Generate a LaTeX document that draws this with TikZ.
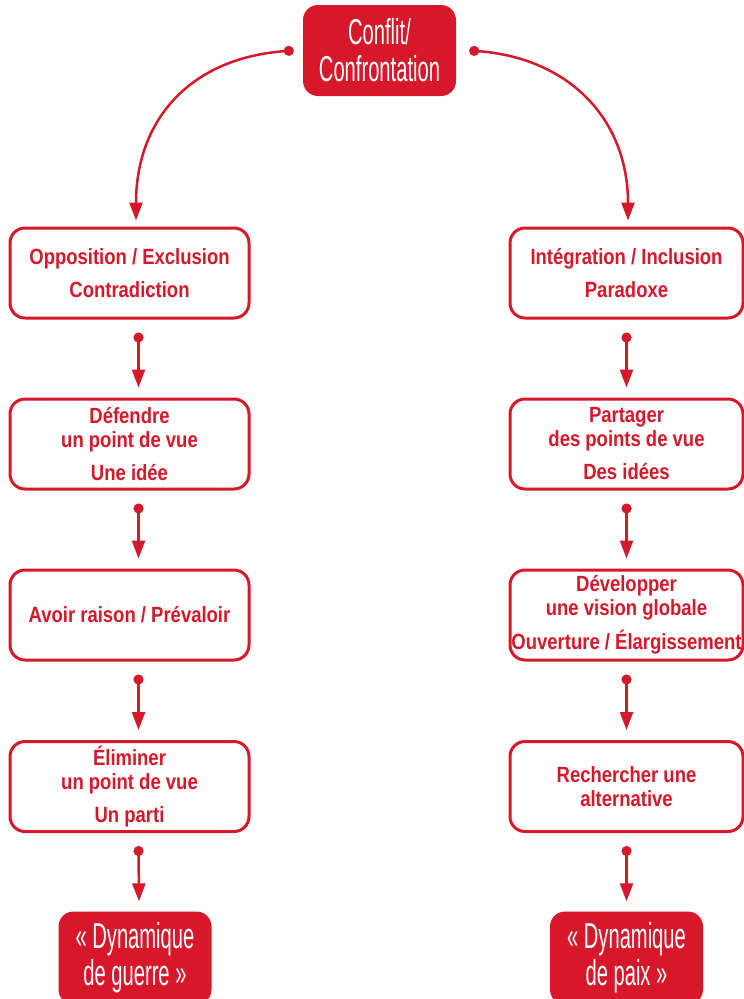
\documentclass[tikz,border=0pt]{standalone}
\usepackage{fontspec}
\usepackage{tikz}
\usetikzlibrary{arrows.meta,calc}
\newfontfamily\boxfont[FakeStretch=0.84]{Liberation Sans}
\newfontfamily\titlefont[FakeStretch=0.56]{Liberation Sans}
\definecolor{confred}{HTML}{D7182A}

\tikzset{
    stage/.style={draw=confred,line width=3pt,rounded corners=15pt,fill=white,
        minimum width=239pt,minimum height=90pt,inner sep=0pt,align=center,
        text=confred,font=\boxfont\bfseries\fontsize{22}{24}\selectfont},
    endbox/.style={fill=confred,rounded corners=15pt,minimum width=153pt,
        minimum height=91pt,inner sep=0pt,align=center,text=white,
        font=\titlefont\fontsize{36}{37}\selectfont},
    flow/.style={draw=confred,line width=2.5pt,
        {Circle[length=10pt]}-{Triangle[length=18pt,width=13pt]}}
}

\begin{document}
\begin{tikzpicture}[x=1pt,y=-1pt]
        \useasboundingbox (0,0) rectangle (744,999);
        \clip (0,0) rectangle (744,999);

        \coordinate (ctop) at (379.5,50.5);
        \coordinate (cl1) at (129.5,273);
        \coordinate (cl2) at (129.5,444);
        \coordinate (cl3) at (129.5,615);
        \coordinate (cl4) at (129.5,786.5);
        \coordinate (cr1) at (626.5,273);
        \coordinate (cr2) at (626.5,444);
        \coordinate (cr3) at (626.5,615);
        \coordinate (cr4) at (626.5,786.5);
        \coordinate (cwar) at (135,958);
        \coordinate (cpeace) at (626.5,958);

        \node[endbox] (top) at (ctop){Conflit/\\Confrontation};

        \node[stage] (l1) at (cl1){Opposition / Exclusion\\[9pt]Contradiction};
        \node[stage] (l2) at (cl2){Défendre\\un point de vue\\[9pt]Une idée};
        \node[stage] (l3) at (cl3){Avoir raison / Prévaloir};
        \node[stage] (l4) at (cl4){Éliminer\\un point de vue\\[9pt]Un parti};

        \node[stage,minimum width=233pt] (r1) at (cr1){Intégration / Inclusion\\[9pt]Paradoxe};
        \node[stage,minimum width=233pt] (r2) at (cr2){Partager\\des points de vue\\[9pt]Des idées};
        \node[stage,minimum width=233pt] (r3) at (cr3){Développer\\une vision globale\\[9pt]Ouverture / Élargissement};
        \node[stage,minimum width=233pt] (r4) at (cr4){Rechercher une\\alternative};

        \node[endbox,minimum height=93pt] (war) at (cwar){« Dynamique\\de guerre »};
        \node[endbox,minimum height=93pt] (peace) at (cpeace){« Dynamique\\de paix »};

        % branches from the conflict
        \draw[flow] ($(top.west)+(-9,0)$) .. controls (190,58) and (136,120) .. ($(l1.north)+(6.5,-6)$);
        \draw[flow] ($(top.east)+(13,0)$) .. controls (570,58) and (628,120) .. ($(r1.north)+(1.5,-6)$);

        % war side
        \draw[flow] ($(l1.south)+(9,13)$) -- ($(l2.north)+(9,-10)$);
        \draw[flow] ($(l2.south)+(9,13)$) -- ($(l3.north)+(9,-10)$);
        \draw[flow] ($(l3.south)+(9,13)$) -- ($(l4.north)+(9,-10)$);
        \draw[flow] ($(l4.south)+(9,13)$) -- ($(war.north)+(4,-10)$);

        % peace side
        \draw[flow] ($(r1.south)+(0,13)$) -- ($(r2.north)+(0,-10)$);
        \draw[flow] ($(r2.south)+(0,13)$) -- ($(r3.north)+(0,-10)$);
        \draw[flow] ($(r3.south)+(0,13)$) -- ($(r4.north)+(0,-10)$);
        \draw[flow] ($(r4.south)+(0,13)$) -- ($(peace.north)+(0,-10)$);
    \end{tikzpicture}
\end{document}
